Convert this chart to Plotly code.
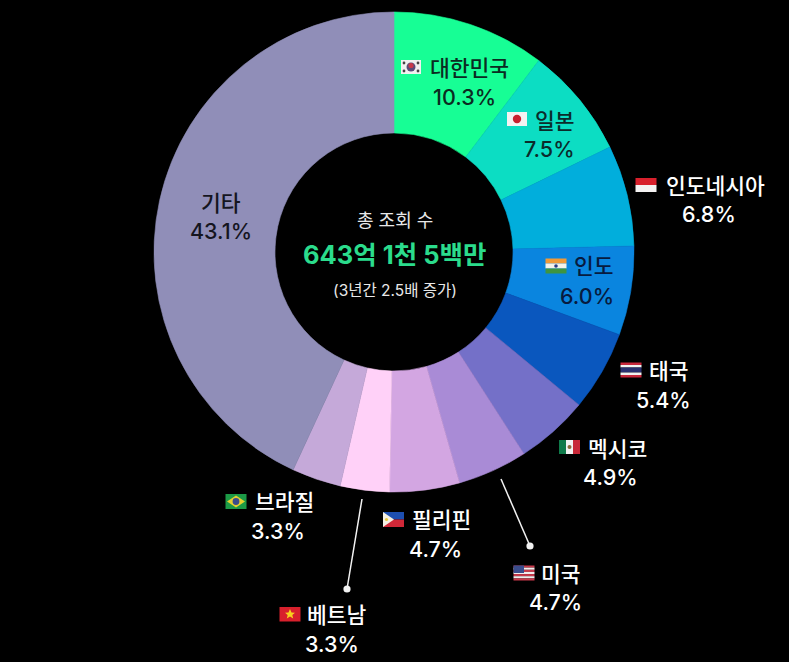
import plotly.graph_objects as go

W, H = 789, 662

countries = ["대한민국", "일본", "인도네시아", "인도", "태국", "멕시코", "미국", "필리핀", "베트남", "브라질", "기타"]
shares = [10.3, 7.5, 6.8, 6.0, 5.4, 4.9, 4.7, 4.7, 3.3, 3.3, 43.1]
slice_colors = ["#17FE95", "#0CDDC3", "#01AEDC", "#0A85DF", "#0A57BE", "#7470C8",
                "#A98BD6", "#D3A6E2", "#FFD1F8", "#C5A9D9", "#908EB8"]
share_labels = ["10.3%", "7.5%", "6.8%", "6.0%", "5.4%", "4.9%", "4.7%", "4.7%", "3.3%", "3.3%", "43.1%"]

# label anchor centres in pixels: name x, name y, share x, share y, colour
label_pos = [
    (470, 68, 464, 97, "#0B2B22"),
    (555, 121, 549, 149, "#0B2B2B"),
    (715, 186, 709, 214, "#FFFFFF"),
    (594, 266, 587, 296, "#071B40"),
    (669, 371, 663, 400, "#FFFFFF"),
    (617, 449, 610, 477, "#FFFFFF"),
    (561, 574, 555, 602, "#FFFFFF"),
    (441, 520, 435, 549, "#FFFFFF"),
    (337, 615, 332, 644, "#FFFFFF"),
    (284, 502, 278, 531, "#FFFFFF"),
    (221, 203, 221, 231, "#15151F"),
]

CX, CY, R = 394, 252, 240
FONT = "Inter, Noto Sans CJK KR"


def px(x):
    return x / W


def py(y):
    return 1 - y / H


fig = go.Figure(go.Pie(
    labels=countries,
    values=shares,
    hole=0.496,
    sort=False,
    direction="clockwise",
    rotation=0,
    textinfo="none",
    hoverinfo="label+percent",
    marker=dict(colors=slice_colors, line=dict(width=0.6, color=slice_colors)),
    domain=dict(x=[px(CX - R), px(CX + R)], y=[py(CY + R), py(CY - R)]),
    showlegend=False,
))

annotations = []


def text(x, y, s, size, color, bold=False, weight=500):
    annotations.append(dict(
        x=px(x), y=py(y), xref="paper", yref="paper", showarrow=False,
        xanchor="center", yanchor="middle", text=s,
        font=dict(family=FONT, size=size, color=color, weight=700 if bold else weight),
    ))


for name, pct, (nx, ny, sx, sy, col) in zip(countries, share_labels, label_pos):
    text(nx, ny, name, 21.5, col)
    text(sx, sy, pct, 21.5, col)

text(395, 220, "총 조회 수", 18, "#E8E8E8", weight=400)
text(394, 254, "643억 1천 5백만", 25.5, "#2BDC8C", bold=True)
text(395, 290, "(3년간 2.5배 증가)", 15.5, "#E8E8E8", weight=400)

shapes = []


def rect(x0, y0, x1, y1, color):
    shapes.append(dict(type="rect", xref="paper", yref="paper", x0=px(x0), x1=px(x1),
                       y0=py(y0), y1=py(y1), fillcolor=color, line=dict(width=0)))


def circle(x, y, r, color):
    shapes.append(dict(type="circle", xref="paper", yref="paper", x0=px(x - r), x1=px(x + r),
                       y0=py(y - r), y1=py(y + r), fillcolor=color, line=dict(width=0)))


def poly(points, color):
    # paper-coordinate paths are normalised by the plot area, which is the full page here
    d = "M " + " L ".join(f"{px(a):.5f},{py(b):.5f}" for a, b in points) + " Z"
    shapes.append(dict(type="path", xref="paper", yref="paper", path=d,
                       fillcolor=color, line=dict(width=0)))


def stripes(cx, cy, colors, w=20, h=14):
    n = len(colors)
    for i, c in enumerate(colors):
        rect(cx - w / 2, cy - h / 2 + i * h / n, cx + w / 2, cy - h / 2 + (i + 1) * h / n, c)


# Korea
rect(401, 60, 421, 74, "#F2F0F0")
circle(411, 67, 4.5, "#5A4A7A")
circle(411, 65.5, 2.6, "#C8384A")
for dx, dy in [(-7, -4), (7, -4), (-7, 4), (7, 4)]:
    circle(411 + dx, 67 + dy, 1.4, "#444444")
# Japan
rect(507, 112, 527, 126, "#F4F2F2")
circle(517, 119, 4.2, "#C8202F")
# Indonesia
stripes(646, 185, ["#D8202C", "#F4F2F2"], 21, 14)
# India
stripes(556, 266, ["#F09A38", "#F4F2EA", "#3E9440"], 21, 15)
circle(556, 266, 1.8, "#2A3C88")
# Thailand
stripes(631, 370, ["#C8283C", "#F2F2F2", "#2A3070", "#2A3070", "#F2F2F2", "#C8283C"], 21, 15)
# Mexico
rect(559, 440, 566, 454, "#0F7A4A")
rect(566, 440, 573, 454, "#F2F2F2")
rect(573, 440, 580, 454, "#C82838")
circle(569.5, 447, 2, "#8A6A3A")
# USA
stripes(524, 573, ["#C8384A", "#F2ECEC"] * 3 + ["#C8384A"], 21, 15)
rect(513.5, 565.5, 524, 573, "#3A4C8C")
# Philippines
rect(383, 512, 404, 519.5, "#1D4FB0")
rect(383, 519.5, 404, 527, "#D02838")
poly([(383, 512), (394, 519.5), (383, 527)], "#F4F0E4")
circle(386.5, 519.5, 1.6, "#E8C840")
# Vietnam
rect(279.5, 607, 300.5, 621.5, "#D8202C")
poly([(290, 609), (291.5, 612.6), (295, 612.8), (292.3, 615), (293.2, 618.6), (290, 616.6),
      (286.8, 618.6), (287.7, 615), (285, 612.8), (288.5, 612.6)], "#F7D21E")
# Brazil
rect(225.5, 494, 246.5, 509, "#1C9A46")
poly([(236, 495.5), (245, 501.5), (236, 507.5), (227, 501.5)], "#E4D030")
circle(236, 501.5, 3.4, "#3A4C8C")

# Leader lines with end dots
for (x0, y0, x1, y1) in [(501, 479, 530, 546), (362, 499, 347, 589)]:
    shapes.append(dict(type="line", xref="paper", yref="paper", x0=px(x0), x1=px(x1),
                       y0=py(y0), y1=py(y1), line=dict(color="#F2F2F2", width=1.5)))
    circle(x1, y1, 3.6, "#F2F2F2")

fig.update_layout(
    width=W, height=H,
    margin=dict(l=0, r=0, t=0, b=0),
    paper_bgcolor="#000000",
    plot_bgcolor="#000000",
    annotations=annotations,
    shapes=shapes,
    font=dict(family=FONT),
)

fig.write_html(
    "out.html",
    config=dict(displayModeBar=False),
    post_script="document.body.style.margin='0';document.body.style.background='#000';"
                "document.body.style.overflow='hidden';",
)
